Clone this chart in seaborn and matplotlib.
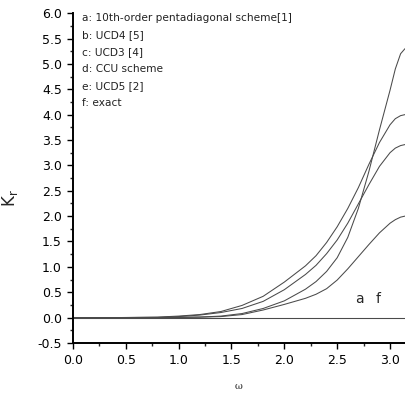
import matplotlib
matplotlib.use("Agg")
import matplotlib.pyplot as plt
import numpy as np
import pandas as pd
import seaborn as sns
from matplotlib.ticker import MultipleLocator, FormatStrFormatter

# values (omega vs dissipation K_r)
omega = [0.0, 0.4, 0.8, 1.0, 1.2, 1.4, 1.6, 1.8, 2.0, 2.2, 2.3, 2.4, 2.5, 2.6,
         2.7, 2.8, 2.9, 3.0, 3.05, 3.1, 3.1416]
k_b = [0.0, 0.0, 0.01, 0.03, 0.06, 0.12, 0.24, 0.42, 0.70, 1.02, 1.22, 1.48, 1.79,
       2.15, 2.56, 3.02, 3.45, 3.80, 3.92, 3.98, 4.00]
k_c = [0.0, 0.0, 0.005, 0.02, 0.05, 0.10, 0.18, 0.32, 0.55, 0.85, 1.03, 1.26, 1.53,
       1.86, 2.24, 2.62, 2.98, 3.25, 3.34, 3.39, 3.41]
k_d = [0.0, 0.0, 0.0, 0.005, 0.01, 0.03, 0.08, 0.18, 0.33, 0.56, 0.71, 0.91, 1.18,
       1.58, 2.15, 2.88, 3.70, 4.48, 4.90, 5.20, 5.30]
k_e = [0.0, 0.0, 0.0, 0.005, 0.01, 0.02, 0.06, 0.15, 0.26, 0.38, 0.46, 0.57, 0.74,
       0.96, 1.20, 1.44, 1.67, 1.86, 1.93, 1.98, 2.00]
k_a = [0.0] * len(omega)
k_f = [0.0] * len(omega)

labels = ["a: 10th-order pentadiagonal scheme[1]", "b: UCD4 [5]", "c: UCD3 [4]",
          "d: CCU scheme", "e: UCD5 [2]", "f: exact"]

df = pd.concat([
    pd.DataFrame({"omega": omega, "K": vals, "scheme": name})
    for name, vals in [("a", k_a), ("b", k_b), ("c", k_c), ("d", k_d), ("e", k_e), ("f", k_f)]
])

sns.set_style("ticks")
plt.rcParams["font.family"] = ["DejaVu Sans"]

fig = plt.figure(figsize=(4.05, 3.99), dpi=100)
ax = fig.add_axes([0.180, 0.1404, 0.82, 0.8267])

sns.lineplot(data=df, x="omega", y="K", hue="scheme", palette=["#4a4a4a"] * 6,
             linewidth=0.75, legend=False, ax=ax)

ax.set_xlim(0, np.pi)
ax.set_ylim(-0.5, 6.0)
ax.xaxis.set_major_locator(MultipleLocator(0.5))
ax.xaxis.set_minor_locator(MultipleLocator(0.25))
ax.yaxis.set_major_locator(MultipleLocator(0.5))
ax.yaxis.set_minor_locator(MultipleLocator(0.25))
ax.xaxis.set_major_formatter(FormatStrFormatter("%.1f"))
ax.yaxis.set_major_formatter(FormatStrFormatter("%.1f"))
ax.tick_params(which="major", direction="out", length=4.5, width=1.0, labelsize=9, colors="black")
ax.tick_params(which="minor", direction="out", length=2.5, width=1.0)
for side in ["top", "right"]:
    ax.spines[side].set_visible(False)
for side in ["left", "bottom"]:
    ax.spines[side].set_linewidth(1.4)
    ax.spines[side].set_color("black")

ax.set_xlabel("ω", family="DejaVu Serif", fontsize=7, labelpad=11)
ax.set_ylabel(r"$\mathregular{K_r}$", fontsize=12)
ax.yaxis.set_label_coords(-0.16, 0.44)

for i, lab in enumerate(labels):
    ax.text(0.027, (343 - 18 - 16.9 * i) / 330, lab, transform=ax.transAxes,
            fontsize=7.6, va="center", ha="left", color="#222222")

ax.text(2.71, 0.22, "a", fontsize=10, ha="center", va="bottom")
ax.text(2.89, 0.22, "f", fontsize=10, ha="center", va="bottom")

fig.savefig("out.png", dpi=100)
